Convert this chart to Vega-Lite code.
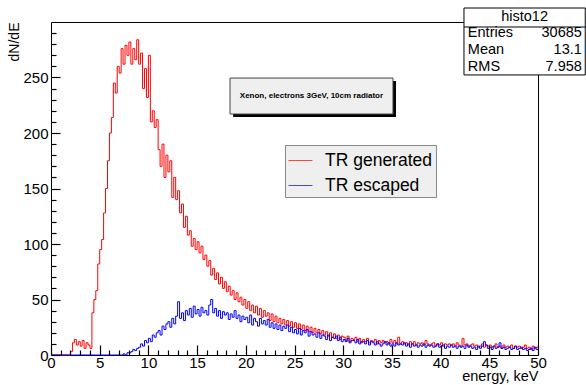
{
"$schema": "https://vega.github.io/schema/vega-lite/v6.json",
"width": 487, "height": 333,
"autosize": {"type": "none"},
"padding": {"left": 51, "top": 22, "right": 48, "bottom": 30},
"background": "white",
"title": {"text": "TR photons spectrum", "fontSize": 18, "fontWeight": "normal", "color": "black", "baseline": "alphabetic", "offset": 13, "dx": 18.5, "anchor": "middle"},
"config": {
  "font": "Liberation Sans",
  "view": {"stroke": "black", "strokeWidth": 1},
  "legend": {"orient": "none", "legendX": 234, "legendY": 123, "fillColor": "#efefef", "strokeColor": "#888888", "padding": 3, "symbolType": "stroke", "symbolSize": 576, "symbolStrokeWidth": 1, "symbolOpacity": 0.7, "labelFontSize": 17.5, "labelColor": "black", "labelOffset": 12, "rowPadding": 4}
},
"datasets": {"h": [
{"e":0,"g":0,"b":0},{"e":0.2,"g":0,"b":0},{"e":0.4,"g":0,"b":0},{"e":0.6,"g":0,"b":0},{"e":0.8,"g":0,"b":0},
{"e":1,"g":0,"b":0},{"e":1.2,"g":0,"b":0},{"e":1.4,"g":0,"b":0},{"e":1.6,"g":0,"b":0},{"e":1.8,"g":0,"b":0},
{"e":2,"g":3,"b":0},{"e":2.2,"g":11,"b":0},{"e":2.4,"g":14,"b":0},{"e":2.6,"g":9,"b":0},{"e":2.8,"g":12,"b":0},
{"e":3,"g":8,"b":0},{"e":3.2,"g":13,"b":0},{"e":3.4,"g":6,"b":0},{"e":3.6,"g":11,"b":0},{"e":3.8,"g":9,"b":0},
{"e":4,"g":6,"b":0},{"e":4.2,"g":38,"b":0},{"e":4.4,"g":50,"b":0},{"e":4.6,"g":58,"b":0},{"e":4.8,"g":82,"b":0},
{"e":5,"g":95,"b":0},{"e":5.2,"g":104,"b":0},{"e":5.4,"g":128,"b":0},{"e":5.6,"g":150,"b":0},{"e":5.8,"g":175,"b":0},
{"e":6,"g":200,"b":0},{"e":6.2,"g":214,"b":0},{"e":6.4,"g":245,"b":0},{"e":6.6,"g":236,"b":0},{"e":6.8,"g":260,"b":0},
{"e":7,"g":254,"b":0},{"e":7.2,"g":276,"b":0},{"e":7.4,"g":262,"b":1},{"e":7.6,"g":279,"b":0},{"e":7.8,"g":270,"b":2},
{"e":8,"g":282,"b":2},{"e":8.2,"g":262,"b":3},{"e":8.4,"g":276,"b":5},{"e":8.6,"g":266,"b":4},{"e":8.8,"g":284,"b":6},
{"e":9,"g":262,"b":7},{"e":9.2,"g":272,"b":10},{"e":9.4,"g":240,"b":8},{"e":9.6,"g":258,"b":13},{"e":9.8,"g":232,"b":11},
{"e":10,"g":270,"b":15},{"e":10.2,"g":210,"b":12},{"e":10.4,"g":220,"b":18},{"e":10.6,"g":205,"b":16},{"e":10.8,"g":212,"b":20},
{"e":11,"g":185,"b":22},{"e":11.2,"g":170,"b":18},{"e":11.4,"g":190,"b":26},{"e":11.6,"g":160,"b":23},{"e":11.8,"g":180,"b":28},
{"e":12,"g":165,"b":30},{"e":12.2,"g":175,"b":25},{"e":12.4,"g":142,"b":33},{"e":12.6,"g":160,"b":28},{"e":12.8,"g":140,"b":35},
{"e":13,"g":148,"b":48},{"e":13.2,"g":128,"b":33},{"e":13.4,"g":136,"b":38},{"e":13.6,"g":115,"b":31},{"e":13.8,"g":125,"b":40},
{"e":14,"g":108,"b":36},{"e":14.2,"g":112,"b":42},{"e":14.4,"g":98,"b":34},{"e":14.6,"g":105,"b":44},{"e":14.8,"g":95,"b":37},
{"e":15,"g":102,"b":41},{"e":15.2,"g":92,"b":35},{"e":15.4,"g":98,"b":43},{"e":15.6,"g":86,"b":38},{"e":15.8,"g":90,"b":40},
{"e":16,"g":80,"b":36},{"e":16.2,"g":85,"b":45},{"e":16.4,"g":72,"b":50},{"e":16.6,"g":78,"b":38},{"e":16.8,"g":68,"b":42},
{"e":17,"g":74,"b":35},{"e":17.2,"g":64,"b":40},{"e":17.4,"g":70,"b":33},{"e":17.6,"g":60,"b":39},{"e":17.8,"g":66,"b":36},
{"e":18,"g":57,"b":38},{"e":18.2,"g":62,"b":32},{"e":18.4,"g":54,"b":37},{"e":18.6,"g":58,"b":34},{"e":18.8,"g":50,"b":40},
{"e":19,"g":56,"b":33},{"e":19.2,"g":48,"b":36},{"e":19.4,"g":52,"b":30},{"e":19.6,"g":45,"b":35},{"e":19.8,"g":50,"b":32},
{"e":20,"g":42,"b":34},{"e":20.2,"g":48,"b":29},{"e":20.4,"g":40,"b":36},{"e":20.6,"g":45,"b":27},{"e":20.8,"g":38,"b":33},
{"e":21,"g":44,"b":30},{"e":21.2,"g":36,"b":26},{"e":21.4,"g":42,"b":33},{"e":21.6,"g":34,"b":28},{"e":21.8,"g":40,"b":31},
{"e":22,"g":35,"b":27},{"e":22.2,"g":38,"b":32},{"e":22.4,"g":31,"b":25},{"e":22.6,"g":37,"b":29},{"e":22.8,"g":30,"b":24},
{"e":23,"g":35,"b":28},{"e":23.2,"g":29,"b":23},{"e":23.4,"g":33,"b":27},{"e":23.6,"g":28,"b":22},{"e":23.8,"g":32,"b":26},
{"e":24,"g":27,"b":24},{"e":24.2,"g":31,"b":27},{"e":24.4,"g":26,"b":21},{"e":24.6,"g":30,"b":25},{"e":24.8,"g":25,"b":20},
{"e":25,"g":29,"b":23},{"e":25.2,"g":24,"b":19},{"e":25.4,"g":28,"b":24},{"e":25.6,"g":23,"b":18},{"e":25.8,"g":27,"b":22},
{"e":26,"g":22,"b":20},{"e":26.2,"g":26,"b":23},{"e":26.4,"g":21,"b":17},{"e":26.6,"g":25,"b":21},{"e":26.8,"g":20,"b":18},
{"e":27,"g":24,"b":19},{"e":27.2,"g":20,"b":16},{"e":27.4,"g":23,"b":20},{"e":27.6,"g":19,"b":15},{"e":27.8,"g":22,"b":18},
{"e":28,"g":18,"b":17},{"e":28.2,"g":21,"b":14},{"e":28.4,"g":17,"b":18},{"e":28.6,"g":20,"b":13},{"e":28.8,"g":16,"b":16},
{"e":29,"g":19,"b":15},{"e":29.2,"g":15,"b":17},{"e":29.4,"g":18,"b":13},{"e":29.6,"g":14,"b":16},{"e":29.8,"g":17,"b":12},
{"e":30,"g":16,"b":14},{"e":30.2,"g":13,"b":12},{"e":30.4,"g":17,"b":15},{"e":30.6,"g":12,"b":11},{"e":30.8,"g":15,"b":13},
{"e":31,"g":14,"b":13},{"e":31.2,"g":16,"b":11},{"e":31.4,"g":12,"b":14},{"e":31.6,"g":15,"b":10},{"e":31.8,"g":11,"b":12},
{"e":32,"g":14,"b":12},{"e":32.2,"g":12,"b":10},{"e":32.4,"g":15,"b":13},{"e":32.6,"g":11,"b":9},{"e":32.8,"g":13,"b":12},
{"e":33,"g":12,"b":11},{"e":33.2,"g":14,"b":9},{"e":33.4,"g":10,"b":12},{"e":33.6,"g":13,"b":10},{"e":33.8,"g":11,"b":8},
{"e":34,"g":13,"b":10},{"e":34.2,"g":11,"b":12},{"e":34.4,"g":12,"b":9},{"e":34.6,"g":10,"b":11},{"e":34.8,"g":14,"b":8},
{"e":35,"g":11,"b":10},{"e":35.2,"g":13,"b":8},{"e":35.4,"g":10,"b":11},{"e":35.6,"g":16,"b":9},{"e":35.8,"g":10,"b":10},
{"e":36,"g":12,"b":9},{"e":36.2,"g":10,"b":11},{"e":36.4,"g":11,"b":8},{"e":36.6,"g":9,"b":10},{"e":36.8,"g":12,"b":7},
{"e":37,"g":10,"b":10},{"e":37.2,"g":12,"b":8},{"e":37.4,"g":9,"b":9},{"e":37.6,"g":11,"b":7},{"e":37.8,"g":10,"b":9},
{"e":38,"g":11,"b":8},{"e":38.2,"g":9,"b":10},{"e":38.4,"g":13,"b":7},{"e":38.6,"g":10,"b":9},{"e":38.8,"g":9,"b":8},
{"e":39,"g":10,"b":9},{"e":39.2,"g":11,"b":7},{"e":39.4,"g":8,"b":8},{"e":39.6,"g":10,"b":10},{"e":39.8,"g":9,"b":7},
{"e":40,"g":11,"b":8},{"e":40.2,"g":8,"b":9},{"e":40.4,"g":10,"b":6},{"e":40.6,"g":9,"b":8},{"e":40.8,"g":10,"b":7},
{"e":41,"g":9,"b":9},{"e":41.2,"g":10,"b":7},{"e":41.4,"g":8,"b":8},{"e":41.6,"g":11,"b":6},{"e":41.8,"g":9,"b":8},
{"e":42,"g":8,"b":7},{"e":42.2,"g":15,"b":8},{"e":42.4,"g":9,"b":6},{"e":42.6,"g":10,"b":9},{"e":42.8,"g":8,"b":7},
{"e":43,"g":9,"b":8},{"e":43.2,"g":10,"b":6},{"e":43.4,"g":8,"b":7},{"e":43.6,"g":9,"b":5},{"e":43.8,"g":7,"b":8},
{"e":44,"g":8,"b":6},{"e":44.2,"g":10,"b":8},{"e":44.4,"g":7,"b":12},{"e":44.6,"g":9,"b":9},{"e":44.8,"g":8,"b":6},
{"e":45,"g":9,"b":7},{"e":45.2,"g":7,"b":5},{"e":45.4,"g":8,"b":8},{"e":45.6,"g":10,"b":6},{"e":45.8,"g":7,"b":7},
{"e":46,"g":8,"b":11},{"e":46.2,"g":6,"b":6},{"e":46.4,"g":9,"b":7},{"e":46.6,"g":7,"b":5},{"e":46.8,"g":8,"b":6},
{"e":47,"g":7,"b":7},{"e":47.2,"g":9,"b":5},{"e":47.4,"g":6,"b":6},{"e":47.6,"g":8,"b":8},{"e":47.8,"g":7,"b":5},
{"e":48,"g":8,"b":6},{"e":48.2,"g":6,"b":7},{"e":48.4,"g":7,"b":5},{"e":48.6,"g":9,"b":6},{"e":48.8,"g":6,"b":4},
{"e":49,"g":7,"b":5},{"e":49.2,"g":5,"b":6},{"e":49.4,"g":8,"b":4},{"e":49.6,"g":6,"b":7},{"e":49.8,"g":7,"b":5},
{"e":50,"g":7,"b":5}
]},
"resolve": {"axis": {"x": "independent", "y": "independent"}},
"layer": [
  {
    "data": {"name": "h"},
    "transform": [{"fold": ["g", "b"], "as": ["k", "v"]}],
    "mark": {"type": "line", "interpolate": "step-after", "strokeWidth": 1},
    "encoding": {
      "x": {"field": "e", "type": "quantitative", "scale": {"domain": [0, 50], "nice": false, "zero": false},
        "axis": {"title": "energy, keV", "titleFontSize": 14.5, "titleFontWeight": "normal", "titleColor": "black", "titleAnchor": "end", "titlePadding": -0.5,
          "values": [0,5,10,15,20,25,30,35,40,45,50], "zindex": 1,
          "offset": -10, "tickSize": 10, "tickColor": "#000000", "tickWidth": 1.2, "labelPadding": 0,
          "labelFontSize": 15, "labelColor": "black", "labelOverlap": false, "labelFlush": false, "domain": false, "grid": false}},
      "y": {"field": "v", "type": "quantitative", "scale": {"domain": [0, 300], "nice": false},
        "axis": {"title": "dN/dE", "titleFontSize": 14, "titleFontWeight": "normal", "titleColor": "black", "titleAnchor": "end", "titlePadding": 1,
          "values": [0,50,100,150,200,250], "zindex": 1,
          "offset": -9, "tickSize": 9, "tickColor": "#000000", "tickWidth": 1.2, "labelPadding": 3,
          "labelFontSize": 15, "labelColor": "black", "labelOverlap": false, "labelFlush": false, "domain": false, "grid": false}},
      "color": {"field": "k", "type": "nominal", "scale": {"domain": ["g", "b"], "range": ["#ff0000", "#0000ff"]},
        "legend": {"title": null, "labelExpr": "datum.value === 'g' ? 'TR generated' : 'TR escaped'"}}
    }
  },
  {
    "data": {"name": "h"},
    "mark": {"type": "point", "opacity": 0},
    "encoding": {
      "x": {"field": "e", "type": "quantitative", "scale": {"domain": [0, 50], "nice": false, "zero": false},
        "axis": {"orient": "bottom", "title": null, "labels": false, "zindex": 1, "values": [1,2,3,4,6,7,8,9,11,12,13,14,16,17,18,19,21,22,23,24,26,27,28,29,31,32,33,34,36,37,38,39,41,42,43,44,46,47,48,49], "offset": -5, "tickSize": 5, "tickColor": "#000000", "tickWidth": 1.2, "domain": false, "grid": false}},
      "y": {"field": "g", "type": "quantitative", "scale": {"domain": [0, 300], "nice": false},
        "axis": {"orient": "left", "title": null, "labels": false, "zindex": 1, "values": [10,20,30,40,60,70,80,90,110,120,130,140,160,170,180,190,210,220,230,240,260,270,280,290], "offset": -5, "tickSize": 5, "tickColor": "#000000", "tickWidth": 1.2, "domain": false, "grid": false}}
    }
  },
  {
    "data": {"values": [{}]},
    "mark": {"type": "rect", "fill": "black"},
    "encoding": {
      "x": {"datum": 18.7, "type": "quantitative", "axis": null}, "x2": {"datum": 35.42},
      "y": {"datum": 246.8, "type": "quantitative", "axis": null}, "y2": {"datum": 214.4}
    }
  },
  {
    "data": {"values": [{}]},
    "mark": {"type": "rect", "fill": "#efefef", "stroke": "#444444", "strokeWidth": 1},
    "encoding": {
      "x": {"datum": 18.38, "type": "quantitative", "axis": null}, "x2": {"datum": 35.11},
      "y": {"datum": 249.5, "type": "quantitative", "axis": null}, "y2": {"datum": 217.1}
    }
  },
  {
    "data": {"values": [{}]},
    "mark": {"type": "text", "fontSize": 8, "fontWeight": "bold", "align": "center", "baseline": "middle", "color": "black"},
    "encoding": {
      "x": {"datum": 26.74, "type": "quantitative", "axis": null},
      "y": {"datum": 233.3, "type": "quantitative", "axis": null},
      "text": {"value": "Xenon, electrons 3GeV, 10cm radiator"}
    }
  },
  {
    "data": {"values": [{}]},
    "mark": {"type": "rect", "fill": "white", "stroke": "black", "strokeWidth": 1},
    "encoding": {
      "x": {"datum": 42.4, "type": "quantitative", "axis": null}, "x2": {"datum": 54.85},
      "y": {"datum": 312.6, "type": "quantitative", "axis": null}, "y2": {"datum": 252.3}
    }
  },
  {
    "data": {"values": [{}]},
    "mark": {"type": "rule", "color": "black", "strokeWidth": 1},
    "encoding": {
      "x": {"datum": 42.4, "type": "quantitative", "axis": null}, "x2": {"datum": 54.85},
      "y": {"datum": 295.5, "type": "quantitative", "axis": null}
    }
  },
  {
    "data": {"values": [{}]},
    "mark": {"type": "text", "fontSize": 14.5, "align": "center", "baseline": "middle", "color": "black"},
    "encoding": {
      "x": {"datum": 48.62, "type": "quantitative", "axis": null},
      "y": {"datum": 304.5, "type": "quantitative", "axis": null},
      "text": {"value": "histo12"}
    }
  },
  {
    "data": {"values": [{}]},
    "mark": {"type": "text", "fontSize": 14.5, "align": "left", "baseline": "middle", "lineHeight": 17, "color": "black"},
    "encoding": {
      "x": {"datum": 42.8, "type": "quantitative", "axis": null},
      "y": {"datum": 290.1, "type": "quantitative", "axis": null},
      "text": {"value": ["Entries", "Mean", "RMS"]}
    }
  },
  {
    "data": {"values": [{}]},
    "mark": {"type": "text", "fontSize": 14.5, "align": "right", "baseline": "middle", "lineHeight": 17, "color": "black"},
    "encoding": {
      "x": {"datum": 54.5, "type": "quantitative", "axis": null},
      "y": {"datum": 290.1, "type": "quantitative", "axis": null},
      "text": {"value": ["30685", "13.1", "7.958"]}
    }
  }
]
}
